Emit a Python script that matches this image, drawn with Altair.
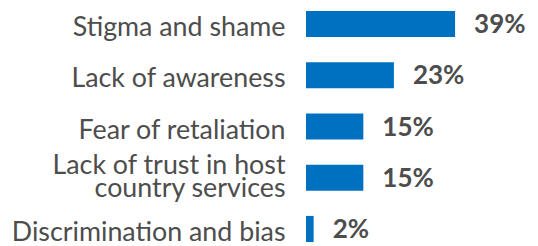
import altair as alt
import pandas as pd

categories = [
    "Stigma and shame",
    "Lack of awareness",
    "Fear of retaliation",
    "Lack of trust in host|country services",
    "Discrimination and bias",
]
values = [39, 23, 15, 15, 2]
value_labels = ["39%", "23%", "15%", "15%", "2%"]

df = pd.DataFrame({"category": categories, "value": values, "label": value_labels})

FONT = "Lato"
TEXT_COLOR = "#4d4d4d"
BAR_COLOR = "#0070C0"
MULTI = "Lack of trust in host|country services"

y_enc = alt.Y(
    "category:N",
    sort=categories,
    title=None,
    scale=alt.Scale(paddingInner=0.49, paddingOuter=0.058),
    axis=alt.Axis(
        ticks=False,
        domain=False,
        labelFont=FONT,
        labelFontSize=26.8,
        labelColor=TEXT_COLOR,
        labelPadding=21,
        labelLimit=400,
        labelLineHeight=23.7,
        labelOffset=alt.condition(f"datum.value === '{MULTI}'", alt.value(-12), alt.value(4)),
        labelExpr="split(datum.label, '|')",
    ),
)
x_enc = alt.X("value:Q", scale=alt.Scale(domain=[0, 58.6]), axis=None)

bars = alt.Chart(df).mark_bar(color=BAR_COLOR).encode(y=y_enc, x=x_enc)
text = alt.Chart(df).mark_text(
    align="left", baseline="middle", dx=19, dy=1, font=FONT, fontSize=26,
    fontWeight="bold", color=TEXT_COLOR
).encode(y=y_enc, x=x_enc, text="label:N")

chart = (bars + text).properties(
    width=224,
    height=237,
    autosize=alt.AutoSizeParams(type="none"),
    padding={"left": 298, "top": 0, "right": 0, "bottom": 0},
).configure_view(stroke=None)

chart.save("out.html", embed_options={"renderer": "svg", "actions": False})
